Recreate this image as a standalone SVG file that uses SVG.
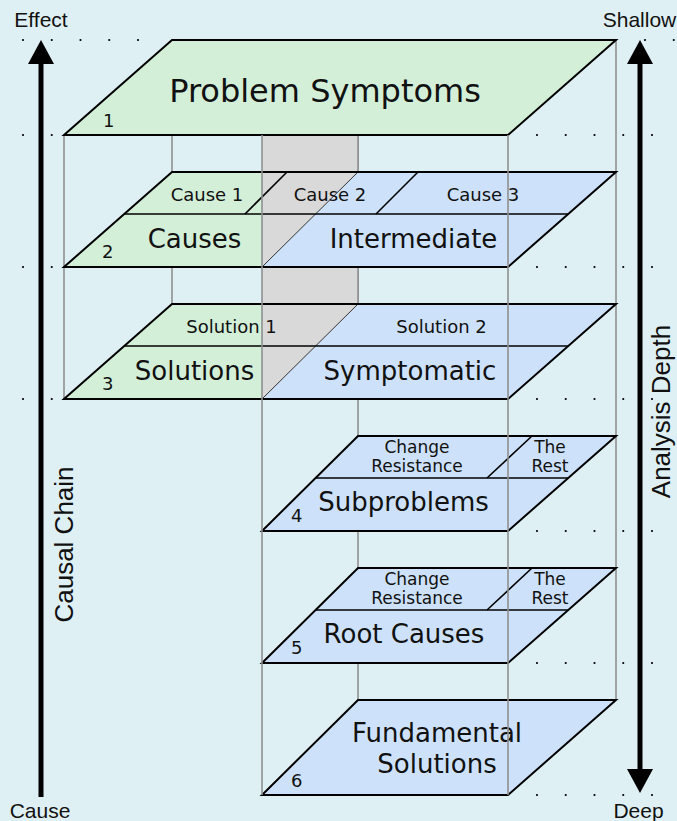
<svg xmlns="http://www.w3.org/2000/svg" width="677" height="821" viewBox="0 0 677 821">
<style>
.bg{fill:#dff0f4}
.g{fill:#d3efd8}
.b{fill:#cde2fa}
.gr{fill:#d9d9d9}
.edge{fill:none;stroke:#000;stroke-width:2;stroke-linejoin:miter}
.mid{fill:none;stroke:#000;stroke-width:1.6}
.thin{fill:none;stroke:#333;stroke-width:1}
.vl{stroke:#909090;stroke-width:1.6;fill:none}
.dot{stroke:#000;stroke-width:2.2;stroke-linecap:round;stroke-dasharray:0 28.75;fill:none}
.t{font-family:"DejaVu Sans",Verdana,sans-serif;fill:#111;text-anchor:middle}
.s17{font-size:17px}
.s18{font-size:18px}
.s26{font-size:26px}
.s32{font-size:32px}
.num{font-family:"DejaVu Sans",Verdana,sans-serif;font-size:18px;fill:#111}
.lab{font-family:"Liberation Sans",Arial,sans-serif;font-size:21px;fill:#111;text-anchor:middle}
.vlab{font-family:"Liberation Sans",Arial,sans-serif;font-size:26px;fill:#111;text-anchor:middle}
.arr{stroke:#000;stroke-width:5;fill:none}
</style>
<defs>
<marker id="ah" markerUnits="userSpaceOnUse" markerWidth="24" markerHeight="26" refX="0" refY="13" orient="auto-start-reverse" viewBox="0 0 24 26">
<path d="M0,0 L24,13 L0,26 z" fill="#000"/>
</marker>
</defs>
<rect class="bg" x="0" y="0" width="677" height="821"/>

<g id="dots">
<line class="dot" x1="23" y1="40" x2="140" y2="40"/>
<line class="dot" x1="645" y1="40" x2="676" y2="40"/>
<line class="dot" x1="23" y1="135" x2="55" y2="135"/>
<line class="dot" x1="23" y1="267" x2="55" y2="267"/>
<line class="dot" x1="23" y1="399" x2="55" y2="399"/>
<line class="dot" x1="537" y1="135" x2="655" y2="135"/>
<line class="dot" x1="537" y1="267" x2="655" y2="267"/>
<line class="dot" x1="537" y1="399" x2="655" y2="399"/>
<line class="dot" x1="537" y1="531" x2="655" y2="531"/>
<line class="dot" x1="537" y1="663" x2="655" y2="663"/>
<line class="dot" x1="537" y1="795" x2="655" y2="795"/>
</g>

<g id="connectors">
<line class="vl" x1="172" y1="135" x2="172" y2="304"/>
<line class="vl" x1="64" y1="135" x2="64" y2="399"/>
<line class="vl" x1="358" y1="135" x2="358" y2="700"/>
<line class="vl" x1="616" y1="40" x2="616" y2="700"/>
<rect class="gr" x="262" y="135" width="96" height="37"/>
<rect class="gr" x="262" y="267" width="96" height="37"/>
<line class="vl" x1="358" y1="135" x2="358" y2="172"/>
<line class="vl" x1="358" y1="267" x2="358" y2="304"/>
</g>

<g id="layer1">
<polygon class="g" points="172,40 616,40 508,135 64,135"/>
<polygon class="edge" points="172,40 616,40 508,135 64,135"/>
<text class="t s32" x="325" y="102">Problem Symptoms</text>
<text class="num" x="103" y="127">1</text>
</g>

<g id="layer2">
<polygon class="g" points="172,172 262,172 262,267 64,267"/>
<polygon class="b" points="358,172 616,172 508,267 262,267"/>
<polygon class="gr" points="262,172 358,172 262,267"/>
<line class="thin" x1="358" y1="172" x2="262" y2="267"/>
<line class="mid" x1="124.3" y1="214" x2="568.3" y2="214"/>
<line class="mid" x1="287" y1="172" x2="245" y2="214"/>
<line class="mid" x1="418" y1="172" x2="376" y2="214"/>
<polygon class="edge" points="172,172 616,172 508,267 64,267"/>
<text class="t s18" x="207" y="201">Cause 1</text>
<text class="t s18" x="330" y="201">Cause 2</text>
<text class="t s18" x="483" y="201">Cause 3</text>
<text class="t s26" x="194.5" y="248">Causes</text>
<text class="t s26" x="413.5" y="248">Intermediate</text>
<text class="num" x="102" y="258">2</text>
</g>

<g id="layer3">
<polygon class="g" points="172,304 262,304 262,399 64,399"/>
<polygon class="b" points="358,304 616,304 508,399 262,399"/>
<polygon class="gr" points="262,304 358,304 262,399"/>
<line class="thin" x1="358" y1="304" x2="262" y2="399"/>
<line class="mid" x1="124.3" y1="346" x2="568.3" y2="346"/>
<polygon class="edge" points="172,304 616,304 508,399 64,399"/>
<text class="t s18" x="231.5" y="333">Solution 1</text>
<text class="t s18" x="441.5" y="333">Solution 2</text>
<text class="t s26" x="194.5" y="380">Solutions</text>
<text class="t s26" x="410" y="380">Symptomatic</text>
<text class="num" x="102" y="390">3</text>
</g>

<g id="layer4">
<polygon class="b" points="358,436 616,436 508,531 262,531"/>
<line class="mid" x1="315.6" y1="478" x2="568.3" y2="478"/>
<line class="mid" x1="532" y1="436" x2="487" y2="478"/>
<polygon class="edge" points="358,436 616,436 508,531 262,531"/>
<text class="t s17" x="417" y="453">Change</text>
<text class="t s17" x="417" y="472">Resistance</text>
<text class="t s17" x="550" y="453">The</text>
<text class="t s17" x="550" y="472">Rest</text>
<text class="t s26" x="403.5" y="511">Subproblems</text>
<text class="num" x="291" y="522">4</text>
</g>

<g id="layer5">
<polygon class="b" points="358,568 616,568 508,663 262,663"/>
<line class="mid" x1="315.6" y1="610" x2="568.3" y2="610"/>
<line class="mid" x1="532" y1="568" x2="487" y2="610"/>
<polygon class="edge" points="358,568 616,568 508,663 262,663"/>
<text class="t s17" x="417" y="585">Change</text>
<text class="t s17" x="417" y="604">Resistance</text>
<text class="t s17" x="550" y="585">The</text>
<text class="t s17" x="550" y="604">Rest</text>
<text class="t s26" x="404" y="643">Root Causes</text>
<text class="num" x="291" y="654">5</text>
</g>

<g id="layer6">
<polygon class="b" points="358,700 616,700 508,795 262,795"/>
<polygon class="edge" points="358,700 616,700 508,795 262,795"/>
<text class="t s26" x="437" y="742">Fundamental</text>
<text class="t s26" x="437" y="773">Solutions</text>
<text class="num" x="291" y="787">6</text>
</g>

<g id="front-edges">
<line class="vl" x1="262" y1="135" x2="262" y2="795"/>
<line class="vl" x1="508" y1="135" x2="508" y2="795"/>
</g>

<g id="causal-axis">
<line class="arr" x1="41" y1="797" x2="41" y2="64" marker-end="url(#ah)"/>
<text class="lab" x="41" y="27">Effect</text>
<text class="lab" x="40" y="818">Cause</text>
<text class="vlab" transform="translate(73,544.5) rotate(-90)">Causal Chain</text>
</g>

<g id="depth-axis">
<line class="arr" x1="640" y1="769" x2="640" y2="64" marker-start="url(#ah)" marker-end="url(#ah)"/>
<text class="lab" x="639.5" y="27">Shallow</text>
<text class="lab" x="638.5" y="818">Deep</text>
<text class="vlab" transform="translate(670,411.5) rotate(-90)">Analysis Depth</text>
</g>
</svg>
